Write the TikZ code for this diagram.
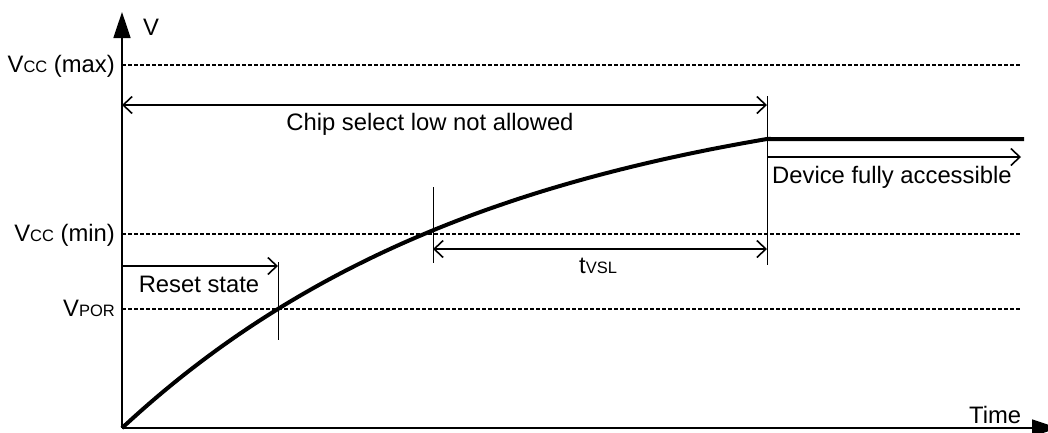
\documentclass[tikz,border=0pt]{standalone}
\usepackage{fontspec}
\setmainfont{Liberation Sans}
\usetikzlibrary{arrows.meta}
\newcommand{\sm}[1]{{\fontsize{16.5}{18}\selectfont #1}}
\begin{document}
\begin{tikzpicture}[x=1pt,y=-1pt,
  axis/.style={line width=1.6pt,-{Triangle[length=26pt,width=17pt]}},
  guide/.style={line width=1.2pt,dash pattern=on 3.5pt off 2.5pt},
  tick/.style={line width=0.9pt},
  span/.style={line width=1.8pt,{Straight Barb[length=9pt,width=17pt,line width=1.6pt]}-{Straight Barb[length=9pt,width=17pt,line width=1.6pt]}},
  spanr/.style={line width=1.8pt,-{Straight Barb[length=9pt,width=17pt,line width=1.6pt]}},
  lbl/.style={inner sep=0pt,font=\fontsize{23.8}{28}\selectfont},
  curve/.style={line width=4pt}]
\useasboundingbox (0,0) rectangle (1048,432);
% named points
\coordinate (O) at (122,428);
\coordinate (ytop) at (122,12);
\coordinate (xend) at (1058,428);
\coordinate (maxL) at (122,65);  \coordinate (maxR) at (1020,65);
\coordinate (minL) at (122,234); \coordinate (minR) at (1020,234);
\coordinate (porL) at (122,309); \coordinate (porR) at (1020,309);
\coordinate (csL) at (122,105);  \coordinate (csR) at (767,105);
\coordinate (v767t) at (767,96); \coordinate (v767b) at (767,265);
\coordinate (v433t) at (433,187); \coordinate (v433b) at (433,263);
\coordinate (v278t) at (278,262); \coordinate (v278b) at (278,340);
\coordinate (rsL) at (122,266);  \coordinate (rsR) at (278,266);
\coordinate (tvL) at (433,249);  \coordinate (tvR) at (767,249);
\coordinate (dfL) at (767,157);  \coordinate (dfR) at (1021,157);
\coordinate (cEnd) at (767,139); \coordinate (flatEnd) at (1024,139);
% guides
\draw[guide] (maxL) -- (maxR);
\draw[guide] (minL) -- (minR);
\draw[guide] (porL) -- (porR);
% axes
\draw[axis] (O) -- (ytop);
\draw[axis] (O) -- (xend);
% ticks
\draw[tick] (v767t) -- (v767b);
\draw[tick] (v433t) -- (v433b);
\draw[tick] (v278t) -- (v278b);
% spans
\draw[span] (csL) -- (csR);
\draw[span] (tvL) -- (tvR);
\draw[spanr] (rsL) -- (rsR);
\draw[spanr] (dfL) -- (dfR);
% curve
\draw[curve] plot[domain=0:645,samples=80,smooth] ({122+\x},{428-353.8*(1-exp(-\x/380))}) -- (flatEnd);
% labels
\node[lbl,anchor=base west] (lV) at (143,35) {V};
\node[lbl,anchor=base west] (lT) at (969,423) {Time};
\node[lbl,anchor=base east] (lmax) at (115,72) {V\sm{CC} (max)};
\node[lbl,anchor=base east] (lmin) at (115,241) {V\sm{CC} (min)};
\node[lbl,anchor=base east] (lpor) at (115,316) {V\sm{POR}};
\node[lbl,anchor=base] (lcs) at (430,130) {Chip select low not allowed};
\node[lbl,anchor=base west] (ldf) at (772,183) {Device fully accessible};
\node[lbl,anchor=base] (lrs) at (199,292) {Reset state};
\node[lbl,anchor=base west] (ltv) at (579,273) {t\sm{VSL}};
\end{tikzpicture}
\end{document}
